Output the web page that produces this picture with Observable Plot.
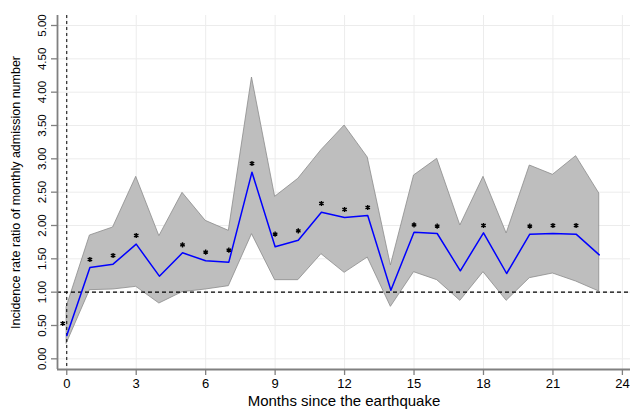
<!DOCTYPE html>
<html>
<head>
<meta charset="utf-8">
<script src="https://cdn.jsdelivr.net/npm/d3@7"></script>
<script src="https://cdn.jsdelivr.net/npm/@observablehq/plot@0.6"></script>
<style>
  html, body { margin: 0; padding: 0; background: #fff; }
  svg { display: block; }
</style>
</head>
<body>
<div id="chart"></div>
<script>
const months = [0,1,2,3,4,5,6,7,8,9,10,11,12,13,14,15,16,17,18,19,20,21,22,23];
const irr    = [0.35,1.37,1.42,1.72,1.24,1.59,1.47,1.45,2.80,1.68,1.78,2.20,2.12,2.15,1.03,1.90,1.88,1.32,1.89,1.28,1.87,1.88,1.87,1.56];
const lower  = [0.23,1.03,1.04,1.08,0.83,1.00,1.04,1.09,1.87,1.18,1.18,1.57,1.29,1.52,0.78,1.30,1.18,0.87,1.30,0.87,1.21,1.28,1.16,1.01];
const upper  = [0.78,1.85,1.97,2.73,1.84,2.49,2.07,1.92,4.22,2.43,2.70,3.13,3.50,3.02,1.40,2.75,3.00,2.00,2.73,1.88,2.90,2.76,3.04,2.48];
const starMonths = [0,1,2,3,5,6,7,8,9,10,11,12,13,15,16,18,20,21,22];
const starValues = [0.53,1.49,1.55,1.85,1.71,1.60,1.63,2.93,1.87,1.92,2.33,2.24,2.27,2.01,1.99,2.00,1.99,2.00,2.00];
const xTicks = [0,3,6,9,12,15,18,21,24];
const yTicks = [0,0.5,1,1.5,2,2.5,3,3.5,4,4.5,5];
const xDomain = [-0.4, 24.35];
const yDomain = [-0.16, 5.15];

const rows = months.map((m, i) => ({month: m, irr: irr[i], lo: lower[i], hi: upper[i]}));
const stars = starMonths.map((m, i) => ({month: m, v: starValues[i]}));
const fmt = d3.format(".2f");

const chart = Plot.plot({
  width: 633,
  height: 414,
  marginLeft: 57,
  marginRight: 3,
  marginTop: 15,
  marginBottom: 45,
  style: {fontFamily: "'Liberation Sans', Arial, sans-serif", fontSize: "12px", color: "black", background: "white"},
  x: {domain: xDomain, axis: null},
  y: {domain: yDomain, axis: null},
  marks: [
    Plot.gridX(xTicks, {stroke: "#ececec", strokeOpacity: 1, strokeWidth: 1}),
    Plot.gridY(yTicks, {stroke: "#ececec", strokeOpacity: 1, strokeWidth: 1}),
    Plot.areaY(rows, {x: "month", y1: "lo", y2: "hi", fill: "#bebebe", stroke: "#8c8c8c", strokeWidth: 0.8}),
    Plot.ruleX([0], {stroke: "black", strokeWidth: 1, strokeDasharray: "3,3"}),
    Plot.ruleY([1], {stroke: "black", strokeWidth: 1.3, strokeDasharray: "4,3"}),
    Plot.line(rows, {x: "month", y: "irr", stroke: "#0000ff", strokeWidth: 1.5}),
    Plot.dot(stars.filter(d => d.month === 0), {x: "month", y: "v", dx: -4, symbol: "asterisk", r: 2.4, stroke: "black", strokeWidth: 1.4}),
    Plot.dot(stars.filter(d => d.month !== 0), {x: "month", y: "v", symbol: "asterisk", r: 2.4, stroke: "black", strokeWidth: 1.4}),
    // axis lines
    Plot.ruleX([xDomain[0]], {stroke: "#808080", strokeWidth: 1.8}),
    Plot.ruleY([yDomain[0]], {stroke: "#808080", strokeWidth: 1.8}),
    // ticks and labels
    Plot.axisX(xTicks, {stroke: "#808080", strokeWidth: 1.3, tickSize: 6, fill: "black", fontSize: 13, tickPadding: 3, label: null}),
    Plot.axisY(yTicks, {stroke: "#808080", strokeWidth: 1.3, tickSize: 6, text: null, label: null}),
    Plot.text(yTicks, {y: d => d, text: d => fmt(d), frameAnchor: "left", dx: -15, rotate: -90, textAnchor: "middle", fontSize: 11.5, fill: "black"}),
    Plot.text(["Months since the earthquake"], {frameAnchor: "bottom", dy: 36, fontSize: 15, fill: "black"}),
    Plot.text(["Incidence rate ratio of monthly admission number"], {frameAnchor: "left", dx: -42, rotate: -90, textAnchor: "middle", fontSize: 12.5, fill: "black"})
  ]
});
document.getElementById("chart").appendChild(chart);
</script>
</body>
</html>
